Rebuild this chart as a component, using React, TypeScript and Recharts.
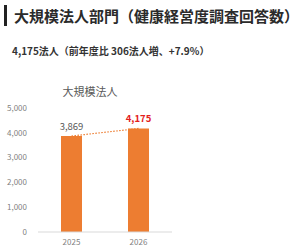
import React from 'react'
import { ComposedChart, Bar, Line, XAxis, YAxis, LabelList } from 'recharts'

const years = ['2025', '2026']
const counts = [3869, 4175]
const yTicks = [0, 1000, 2000, 3000, 4000, 5000]

const data = years.map((year, i) => ({ year, count: counts[i] }))

const font = '"Noto Sans CJK JP", "Noto Sans", sans-serif'

const fmt = (v: number) => v.toLocaleString('en-US')

function ValueLabel(props: any) {
  const { x, y, width, value, index } = props
  const last = index === counts.length - 1
  return (
    <text
      x={x + width / 2}
      y={y - 6}
      textAnchor="middle"
      fontSize={last ? 9.5 : 9.5}
      fontWeight={last ? 700 : 400}
      fill={last ? '#e3211c' : '#595959'}
      fontFamily={font}
    >
      {fmt(value)}
    </text>
  )
}

export default function App() {
  return (
    <div style={{ position: 'absolute', left: 0, top: 0, width: 300, height: 251, background: '#fff', fontFamily: font }}>
      <div style={{ position: 'absolute', left: 4, top: 5, width: 3, height: 21, background: '#222' }} />
      <div
        style={{
          position: 'absolute',
          left: 14,
          top: 5,
          fontSize: 15,
          fontWeight: 700,
          color: '#2b2b2b',
          lineHeight: '21px',
          whiteSpace: 'nowrap',
        }}
      >
        大規模法人部門（健康経営度調査回答数）
      </div>
      <div
        style={{
          position: 'absolute',
          left: 12,
          top: 43,
          fontSize: 10,
          fontWeight: 700,
          color: '#333',
          lineHeight: '16px',
          whiteSpace: 'nowrap',
        }}
      >
        4,175法人（前年度比 306法人増、+7.9%）
      </div>
      <div
        style={{
          position: 'absolute',
          left: 40,
          top: 83,
          width: 100,
          textAlign: 'center',
          fontSize: 11,
          color: '#595959',
          lineHeight: '16px',
        }}
      >
        大規模法人
      </div>
      <div style={{ position: 'absolute', left: 0, top: 80 }}>
        <ComposedChart width={180} height={171} data={data} margin={{ top: 28, right: 8, bottom: 5, left: 0 }}>
          <XAxis
            dataKey="year"
            axisLine={{ stroke: '#d9d9d9' }}
            tickLine={false}
            tickSize={0}
            tickMargin={7}
            height={14}
            tick={{ fontSize: 8, fill: '#7f7f7f', fontFamily: font }}
          />
          <YAxis
            domain={[0, 5000]}
            ticks={yTicks}
            tickFormatter={fmt}
            axisLine={false}
            tickLine={false}
            tickSize={0}
            tickMargin={11}
            width={38}
            tick={{ fontSize: 8, fill: '#7f7f7f', fontFamily: font }}
          />
          <Line
            type="linear"
            dataKey="count"
            stroke="#ed7d31"
            strokeWidth={1.2}
            strokeDasharray="1.5 1.5"
            dot={false}
            isAnimationActive={false}
          />
          <Bar dataKey="count" fill="#ed7d31" barSize={21} isAnimationActive={false}>
            <LabelList dataKey="count" content={<ValueLabel />} />
          </Bar>
        </ComposedChart>
      </div>
    </div>
  )
}
